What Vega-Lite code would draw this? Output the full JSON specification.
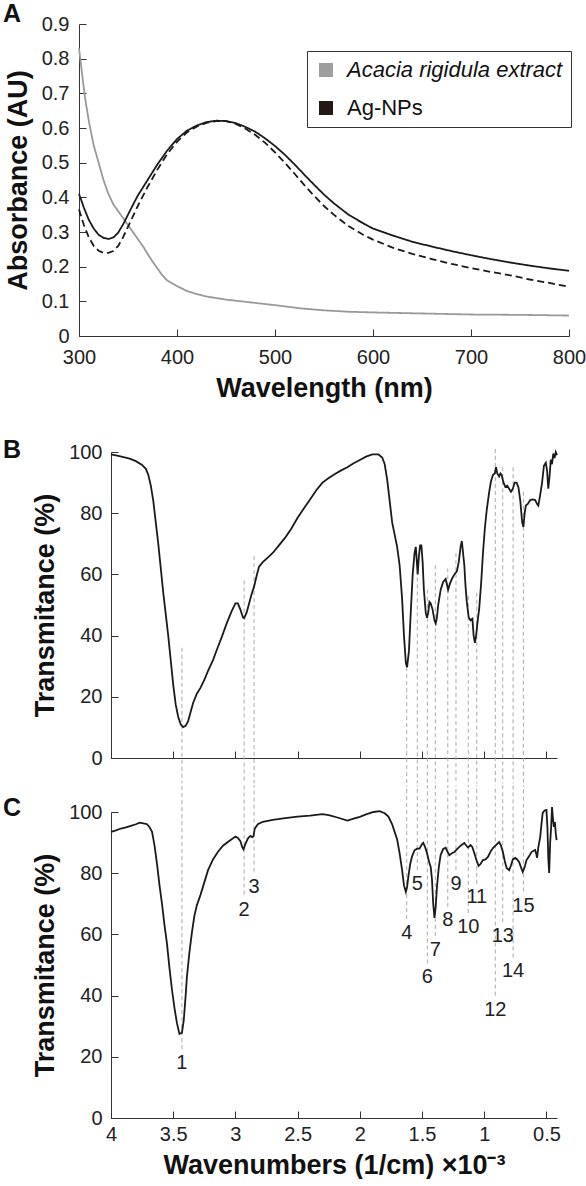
{
  "$schema": "https://vega.github.io/schema/vega-lite/v6.json",
  "background": "white",
  "padding": {"left": 3, "top": 2, "right": 0, "bottom": 0},
  "config": {
    "font": "Liberation Sans",
    "view": {"stroke": null},
    "axis": {
      "domainColor": "#333333", "tickColor": "#333333", "labelColor": "#222222", "titleColor": "#111111",
      "labelFontSize": 20, "titleFontSize": 27, "titleFontWeight": "bold", "grid": false,
      "tickSize": -7, "domainWidth": 1, "tickWidth": 1, "labelFlush": false, "labelOverlap": false
    },
    "title": {"fontSize": 25, "fontWeight": "bold", "anchor": "start", "frame": "group", "color": "#111111", "offset": 0, "baseline": "alphabetic"}
  },
  "datasets": {
    "uv": [
      {"wl":300,"abs":0.83,"sample":"Acacia rigidula extract","run":"extract"},
      {"wl":303,"abs":0.76,"sample":"Acacia rigidula extract","run":"extract"},
      {"wl":306,"abs":0.69,"sample":"Acacia rigidula extract","run":"extract"},
      {"wl":310,"abs":0.62,"sample":"Acacia rigidula extract","run":"extract"},
      {"wl":315,"abs":0.55,"sample":"Acacia rigidula extract","run":"extract"},
      {"wl":320,"abs":0.5,"sample":"Acacia rigidula extract","run":"extract"},
      {"wl":325,"abs":0.45,"sample":"Acacia rigidula extract","run":"extract"},
      {"wl":330,"abs":0.41,"sample":"Acacia rigidula extract","run":"extract"},
      {"wl":335,"abs":0.38,"sample":"Acacia rigidula extract","run":"extract"},
      {"wl":340,"abs":0.36,"sample":"Acacia rigidula extract","run":"extract"},
      {"wl":345,"abs":0.34,"sample":"Acacia rigidula extract","run":"extract"},
      {"wl":350,"abs":0.32,"sample":"Acacia rigidula extract","run":"extract"},
      {"wl":355,"abs":0.3,"sample":"Acacia rigidula extract","run":"extract"},
      {"wl":360,"abs":0.28,"sample":"Acacia rigidula extract","run":"extract"},
      {"wl":365,"abs":0.26,"sample":"Acacia rigidula extract","run":"extract"},
      {"wl":370,"abs":0.237,"sample":"Acacia rigidula extract","run":"extract"},
      {"wl":375,"abs":0.215,"sample":"Acacia rigidula extract","run":"extract"},
      {"wl":380,"abs":0.195,"sample":"Acacia rigidula extract","run":"extract"},
      {"wl":385,"abs":0.175,"sample":"Acacia rigidula extract","run":"extract"},
      {"wl":390,"abs":0.16,"sample":"Acacia rigidula extract","run":"extract"},
      {"wl":400,"abs":0.144,"sample":"Acacia rigidula extract","run":"extract"},
      {"wl":410,"abs":0.13,"sample":"Acacia rigidula extract","run":"extract"},
      {"wl":420,"abs":0.121,"sample":"Acacia rigidula extract","run":"extract"},
      {"wl":430,"abs":0.114,"sample":"Acacia rigidula extract","run":"extract"},
      {"wl":450,"abs":0.105,"sample":"Acacia rigidula extract","run":"extract"},
      {"wl":475,"abs":0.097,"sample":"Acacia rigidula extract","run":"extract"},
      {"wl":500,"abs":0.089,"sample":"Acacia rigidula extract","run":"extract"},
      {"wl":525,"abs":0.08,"sample":"Acacia rigidula extract","run":"extract"},
      {"wl":550,"abs":0.074,"sample":"Acacia rigidula extract","run":"extract"},
      {"wl":575,"abs":0.07,"sample":"Acacia rigidula extract","run":"extract"},
      {"wl":600,"abs":0.068,"sample":"Acacia rigidula extract","run":"extract"},
      {"wl":650,"abs":0.065,"sample":"Acacia rigidula extract","run":"extract"},
      {"wl":700,"abs":0.062,"sample":"Acacia rigidula extract","run":"extract"},
      {"wl":750,"abs":0.061,"sample":"Acacia rigidula extract","run":"extract"},
      {"wl":800,"abs":0.059,"sample":"Acacia rigidula extract","run":"extract"},
      {"wl":300,"abs":0.41,"sample":"Ag-NPs","run":"solid"},
      {"wl":305,"abs":0.37,"sample":"Ag-NPs","run":"solid"},
      {"wl":310,"abs":0.335,"sample":"Ag-NPs","run":"solid"},
      {"wl":315,"abs":0.31,"sample":"Ag-NPs","run":"solid"},
      {"wl":320,"abs":0.292,"sample":"Ag-NPs","run":"solid"},
      {"wl":325,"abs":0.283,"sample":"Ag-NPs","run":"solid"},
      {"wl":330,"abs":0.28,"sample":"Ag-NPs","run":"solid"},
      {"wl":335,"abs":0.284,"sample":"Ag-NPs","run":"solid"},
      {"wl":340,"abs":0.298,"sample":"Ag-NPs","run":"solid"},
      {"wl":345,"abs":0.322,"sample":"Ag-NPs","run":"solid"},
      {"wl":350,"abs":0.35,"sample":"Ag-NPs","run":"solid"},
      {"wl":355,"abs":0.378,"sample":"Ag-NPs","run":"solid"},
      {"wl":360,"abs":0.405,"sample":"Ag-NPs","run":"solid"},
      {"wl":370,"abs":0.45,"sample":"Ag-NPs","run":"solid"},
      {"wl":380,"abs":0.495,"sample":"Ag-NPs","run":"solid"},
      {"wl":390,"abs":0.535,"sample":"Ag-NPs","run":"solid"},
      {"wl":400,"abs":0.568,"sample":"Ag-NPs","run":"solid"},
      {"wl":410,"abs":0.592,"sample":"Ag-NPs","run":"solid"},
      {"wl":420,"abs":0.607,"sample":"Ag-NPs","run":"solid"},
      {"wl":430,"abs":0.617,"sample":"Ag-NPs","run":"solid"},
      {"wl":440,"abs":0.621,"sample":"Ag-NPs","run":"solid"},
      {"wl":450,"abs":0.62,"sample":"Ag-NPs","run":"solid"},
      {"wl":460,"abs":0.614,"sample":"Ag-NPs","run":"solid"},
      {"wl":470,"abs":0.603,"sample":"Ag-NPs","run":"solid"},
      {"wl":480,"abs":0.589,"sample":"Ag-NPs","run":"solid"},
      {"wl":490,"abs":0.57,"sample":"Ag-NPs","run":"solid"},
      {"wl":500,"abs":0.548,"sample":"Ag-NPs","run":"solid"},
      {"wl":510,"abs":0.523,"sample":"Ag-NPs","run":"solid"},
      {"wl":520,"abs":0.495,"sample":"Ag-NPs","run":"solid"},
      {"wl":530,"abs":0.465,"sample":"Ag-NPs","run":"solid"},
      {"wl":540,"abs":0.436,"sample":"Ag-NPs","run":"solid"},
      {"wl":550,"abs":0.408,"sample":"Ag-NPs","run":"solid"},
      {"wl":560,"abs":0.383,"sample":"Ag-NPs","run":"solid"},
      {"wl":575,"abs":0.35,"sample":"Ag-NPs","run":"solid"},
      {"wl":590,"abs":0.325,"sample":"Ag-NPs","run":"solid"},
      {"wl":600,"abs":0.31,"sample":"Ag-NPs","run":"solid"},
      {"wl":620,"abs":0.29,"sample":"Ag-NPs","run":"solid"},
      {"wl":640,"abs":0.272,"sample":"Ag-NPs","run":"solid"},
      {"wl":660,"abs":0.258,"sample":"Ag-NPs","run":"solid"},
      {"wl":680,"abs":0.245,"sample":"Ag-NPs","run":"solid"},
      {"wl":700,"abs":0.233,"sample":"Ag-NPs","run":"solid"},
      {"wl":720,"abs":0.222,"sample":"Ag-NPs","run":"solid"},
      {"wl":740,"abs":0.212,"sample":"Ag-NPs","run":"solid"},
      {"wl":760,"abs":0.203,"sample":"Ag-NPs","run":"solid"},
      {"wl":780,"abs":0.195,"sample":"Ag-NPs","run":"solid"},
      {"wl":800,"abs":0.188,"sample":"Ag-NPs","run":"solid"},
      {"wl":300,"abs":0.365,"sample":"Ag-NPs","run":"dashed"},
      {"wl":305,"abs":0.32,"sample":"Ag-NPs","run":"dashed"},
      {"wl":310,"abs":0.285,"sample":"Ag-NPs","run":"dashed"},
      {"wl":315,"abs":0.26,"sample":"Ag-NPs","run":"dashed"},
      {"wl":320,"abs":0.246,"sample":"Ag-NPs","run":"dashed"},
      {"wl":325,"abs":0.24,"sample":"Ag-NPs","run":"dashed"},
      {"wl":330,"abs":0.24,"sample":"Ag-NPs","run":"dashed"},
      {"wl":335,"abs":0.245,"sample":"Ag-NPs","run":"dashed"},
      {"wl":340,"abs":0.26,"sample":"Ag-NPs","run":"dashed"},
      {"wl":345,"abs":0.285,"sample":"Ag-NPs","run":"dashed"},
      {"wl":350,"abs":0.315,"sample":"Ag-NPs","run":"dashed"},
      {"wl":355,"abs":0.345,"sample":"Ag-NPs","run":"dashed"},
      {"wl":360,"abs":0.375,"sample":"Ag-NPs","run":"dashed"},
      {"wl":370,"abs":0.43,"sample":"Ag-NPs","run":"dashed"},
      {"wl":380,"abs":0.48,"sample":"Ag-NPs","run":"dashed"},
      {"wl":390,"abs":0.525,"sample":"Ag-NPs","run":"dashed"},
      {"wl":400,"abs":0.56,"sample":"Ag-NPs","run":"dashed"},
      {"wl":410,"abs":0.587,"sample":"Ag-NPs","run":"dashed"},
      {"wl":420,"abs":0.604,"sample":"Ag-NPs","run":"dashed"},
      {"wl":430,"abs":0.615,"sample":"Ag-NPs","run":"dashed"},
      {"wl":440,"abs":0.62,"sample":"Ag-NPs","run":"dashed"},
      {"wl":450,"abs":0.62,"sample":"Ag-NPs","run":"dashed"},
      {"wl":460,"abs":0.612,"sample":"Ag-NPs","run":"dashed"},
      {"wl":470,"abs":0.598,"sample":"Ag-NPs","run":"dashed"},
      {"wl":480,"abs":0.58,"sample":"Ag-NPs","run":"dashed"},
      {"wl":490,"abs":0.557,"sample":"Ag-NPs","run":"dashed"},
      {"wl":500,"abs":0.53,"sample":"Ag-NPs","run":"dashed"},
      {"wl":510,"abs":0.5,"sample":"Ag-NPs","run":"dashed"},
      {"wl":520,"abs":0.468,"sample":"Ag-NPs","run":"dashed"},
      {"wl":530,"abs":0.435,"sample":"Ag-NPs","run":"dashed"},
      {"wl":540,"abs":0.404,"sample":"Ag-NPs","run":"dashed"},
      {"wl":550,"abs":0.375,"sample":"Ag-NPs","run":"dashed"},
      {"wl":560,"abs":0.35,"sample":"Ag-NPs","run":"dashed"},
      {"wl":575,"abs":0.317,"sample":"Ag-NPs","run":"dashed"},
      {"wl":590,"abs":0.292,"sample":"Ag-NPs","run":"dashed"},
      {"wl":600,"abs":0.278,"sample":"Ag-NPs","run":"dashed"},
      {"wl":620,"abs":0.255,"sample":"Ag-NPs","run":"dashed"},
      {"wl":640,"abs":0.237,"sample":"Ag-NPs","run":"dashed"},
      {"wl":660,"abs":0.222,"sample":"Ag-NPs","run":"dashed"},
      {"wl":680,"abs":0.208,"sample":"Ag-NPs","run":"dashed"},
      {"wl":700,"abs":0.196,"sample":"Ag-NPs","run":"dashed"},
      {"wl":720,"abs":0.185,"sample":"Ag-NPs","run":"dashed"},
      {"wl":740,"abs":0.175,"sample":"Ag-NPs","run":"dashed"},
      {"wl":760,"abs":0.163,"sample":"Ag-NPs","run":"dashed"},
      {"wl":780,"abs":0.153,"sample":"Ag-NPs","run":"dashed"},
      {"wl":800,"abs":0.142,"sample":"Ag-NPs","run":"dashed"}
    ],
    "ftirB": [
      {"wn":4.0,"t":99.2},{"wn":3.95,"t":98.8},{"wn":3.9,"t":98.3},{"wn":3.85,"t":97.8},{"wn":3.8,"t":97.0},
      {"wn":3.75,"t":95.8},{"wn":3.72,"t":94.5},{"wn":3.7,"t":92.5},{"wn":3.68,"t":89},{"wn":3.66,"t":84},
      {"wn":3.64,"t":77},{"wn":3.62,"t":70},{"wn":3.6,"t":62},{"wn":3.58,"t":54},{"wn":3.56,"t":47},
      {"wn":3.54,"t":40},{"wn":3.52,"t":32},{"wn":3.5,"t":24},{"wn":3.48,"t":17.5},{"wn":3.46,"t":13.5},
      {"wn":3.44,"t":11},{"wn":3.42,"t":10.1},{"wn":3.4,"t":10.5},{"wn":3.38,"t":12},{"wn":3.36,"t":15},
      {"wn":3.34,"t":18},{"wn":3.31,"t":21},{"wn":3.28,"t":23},{"wn":3.25,"t":25.5},{"wn":3.22,"t":28.5},
      {"wn":3.18,"t":32},{"wn":3.15,"t":35.3},{"wn":3.11,"t":39.5},{"wn":3.07,"t":44},{"wn":3.03,"t":48},
      {"wn":3.0,"t":50.5},{"wn":2.98,"t":50.5},{"wn":2.96,"t":48.5},{"wn":2.94,"t":46},{"wn":2.93,"t":45.7},
      {"wn":2.91,"t":47.5},{"wn":2.89,"t":50.5},{"wn":2.87,"t":53.5},{"wn":2.85,"t":56},{"wn":2.83,"t":59.5},
      {"wn":2.81,"t":62.5},{"wn":2.78,"t":64},{"wn":2.74,"t":65.5},{"wn":2.7,"t":67},{"wn":2.65,"t":69.5},
      {"wn":2.6,"t":72},{"wn":2.55,"t":75},{"wn":2.5,"t":78.5},{"wn":2.45,"t":81.5},{"wn":2.4,"t":84.5},
      {"wn":2.35,"t":87.5},{"wn":2.3,"t":90},{"wn":2.25,"t":91.5},{"wn":2.2,"t":92.8},{"wn":2.15,"t":94},
      {"wn":2.1,"t":95},{"wn":2.05,"t":96.3},{"wn":2.0,"t":97.4},{"wn":1.95,"t":98.5},{"wn":1.9,"t":99.2},
      {"wn":1.85,"t":99.2},{"wn":1.82,"t":98.2},{"wn":1.8,"t":96},{"wn":1.78,"t":91},{"wn":1.76,"t":84},
      {"wn":1.74,"t":77},{"wn":1.72,"t":73},{"wn":1.7,"t":69},{"wn":1.68,"t":63},{"wn":1.66,"t":52},
      {"wn":1.645,"t":40},{"wn":1.63,"t":31},{"wn":1.62,"t":29.7},{"wn":1.605,"t":35},{"wn":1.59,"t":48},
      {"wn":1.575,"t":60},{"wn":1.56,"t":67},{"wn":1.55,"t":69},{"wn":1.543,"t":65},{"wn":1.535,"t":60},
      {"wn":1.525,"t":66},{"wn":1.515,"t":69.5},{"wn":1.505,"t":69.5},{"wn":1.495,"t":64},{"wn":1.485,"t":55},
      {"wn":1.47,"t":47.5},{"wn":1.46,"t":45.8},{"wn":1.45,"t":47.5},{"wn":1.44,"t":51},{"wn":1.43,"t":50.5},
      {"wn":1.415,"t":48.5},{"wn":1.4,"t":45},{"wn":1.39,"t":44},{"wn":1.38,"t":46},{"wn":1.37,"t":50},
      {"wn":1.35,"t":55},{"wn":1.33,"t":57.5},{"wn":1.31,"t":58.5},{"wn":1.29,"t":55},{"wn":1.275,"t":57},
      {"wn":1.26,"t":58.5},{"wn":1.24,"t":60},{"wn":1.22,"t":61},{"wn":1.205,"t":64},{"wn":1.19,"t":69},
      {"wn":1.18,"t":70.9},{"wn":1.17,"t":67},{"wn":1.16,"t":63},{"wn":1.15,"t":56},{"wn":1.14,"t":51},
      {"wn":1.125,"t":46},{"wn":1.11,"t":45},{"wn":1.095,"t":45.5},{"wn":1.085,"t":40},{"wn":1.075,"t":37.6},
      {"wn":1.065,"t":40},{"wn":1.055,"t":44},{"wn":1.04,"t":49},{"wn":1.025,"t":57},{"wn":1.01,"t":67},
      {"wn":0.995,"t":75},{"wn":0.98,"t":81},{"wn":0.96,"t":87},{"wn":0.945,"t":90.5},{"wn":0.93,"t":92.5},
      {"wn":0.915,"t":93},{"wn":0.905,"t":95},{"wn":0.895,"t":93},{"wn":0.88,"t":92},{"wn":0.87,"t":93},
      {"wn":0.86,"t":92.5},{"wn":0.845,"t":90},{"wn":0.83,"t":88.6},{"wn":0.815,"t":89},{"wn":0.8,"t":88},
      {"wn":0.785,"t":87},{"wn":0.77,"t":88},{"wn":0.755,"t":90},{"wn":0.74,"t":90},{"wn":0.725,"t":88.5},
      {"wn":0.71,"t":84},{"wn":0.695,"t":77},{"wn":0.685,"t":75.5},{"wn":0.675,"t":80},{"wn":0.665,"t":82.5},
      {"wn":0.65,"t":83},{"wn":0.63,"t":84.3},{"wn":0.61,"t":84.5},{"wn":0.59,"t":84.3},{"wn":0.575,"t":83},
      {"wn":0.565,"t":82.5},{"wn":0.55,"t":86},{"wn":0.535,"t":90},{"wn":0.52,"t":95.5},{"wn":0.505,"t":96.5},
      {"wn":0.495,"t":94},{"wn":0.485,"t":88},{"wn":0.475,"t":92},{"wn":0.465,"t":97.5},{"wn":0.455,"t":96},
      {"wn":0.445,"t":99.5},{"wn":0.435,"t":98},{"wn":0.425,"t":100},{"wn":0.415,"t":99}
    ],
    "ftirC": [
      {"wn":4.0,"t":93.5},{"wn":3.96,"t":94},{"wn":3.92,"t":94.6},{"wn":3.88,"t":95},{"wn":3.84,"t":95.5},
      {"wn":3.8,"t":96},{"wn":3.77,"t":96.5},{"wn":3.74,"t":96.3},{"wn":3.71,"t":96},{"wn":3.69,"t":95},
      {"wn":3.67,"t":93.5},{"wn":3.65,"t":89},{"wn":3.63,"t":83},{"wn":3.61,"t":76},{"wn":3.59,"t":70},
      {"wn":3.57,"t":63},{"wn":3.55,"t":57},{"wn":3.53,"t":49},{"wn":3.51,"t":42},{"wn":3.49,"t":36},
      {"wn":3.47,"t":31},{"wn":3.45,"t":27.5},{"wn":3.43,"t":27.8},{"wn":3.415,"t":32},{"wn":3.4,"t":40},
      {"wn":3.39,"t":46},{"wn":3.37,"t":54},{"wn":3.35,"t":60.5},{"wn":3.33,"t":66},{"wn":3.31,"t":69.5},
      {"wn":3.28,"t":73},{"wn":3.25,"t":77},{"wn":3.22,"t":81},{"wn":3.18,"t":84.5},{"wn":3.14,"t":87},
      {"wn":3.1,"t":89},{"wn":3.05,"t":90.5},{"wn":3.0,"t":92},{"wn":2.98,"t":91.5},{"wn":2.96,"t":90.5},
      {"wn":2.945,"t":88.5},{"wn":2.935,"t":87.8},{"wn":2.92,"t":89.5},{"wn":2.9,"t":91.3},{"wn":2.88,"t":92.2},
      {"wn":2.865,"t":91.8},{"wn":2.855,"t":92},{"wn":2.845,"t":94.5},{"wn":2.82,"t":96},{"wn":2.78,"t":96.8},
      {"wn":2.7,"t":97.4},{"wn":2.6,"t":98},{"wn":2.5,"t":98.5},{"wn":2.4,"t":98.8},{"wn":2.3,"t":99.3},
      {"wn":2.25,"t":99},{"wn":2.18,"t":98.2},{"wn":2.1,"t":97.2},{"wn":2.05,"t":97.8},{"wn":2.0,"t":98.4},
      {"wn":1.95,"t":99.2},{"wn":1.89,"t":100},{"wn":1.84,"t":100.3},{"wn":1.8,"t":99.6},{"wn":1.77,"t":98.5},
      {"wn":1.74,"t":96},{"wn":1.72,"t":93.5},{"wn":1.7,"t":91},{"wn":1.68,"t":86.5},{"wn":1.66,"t":81},
      {"wn":1.645,"t":76},{"wn":1.63,"t":73.9},{"wn":1.62,"t":75.5},{"wn":1.61,"t":78.8},{"wn":1.595,"t":83},
      {"wn":1.58,"t":85.5},{"wn":1.56,"t":87.5},{"wn":1.54,"t":88},{"wn":1.52,"t":88},{"wn":1.5,"t":89.5},
      {"wn":1.49,"t":89.9},{"wn":1.475,"t":88.5},{"wn":1.46,"t":86.6},{"wn":1.445,"t":84},{"wn":1.43,"t":82},
      {"wn":1.42,"t":78},{"wn":1.41,"t":70},{"wn":1.4,"t":65.4},{"wn":1.39,"t":69},{"wn":1.38,"t":75.5},
      {"wn":1.365,"t":82},{"wn":1.35,"t":86},{"wn":1.33,"t":87.9},{"wn":1.31,"t":88.3},{"wn":1.295,"t":87},
      {"wn":1.28,"t":85.9},{"wn":1.26,"t":86.5},{"wn":1.24,"t":86.9},{"wn":1.22,"t":87.8},{"wn":1.2,"t":88.6},
      {"wn":1.18,"t":89.3},{"wn":1.16,"t":89.9},{"wn":1.14,"t":88.8},{"wn":1.13,"t":88.4},{"wn":1.11,"t":89.2},
      {"wn":1.095,"t":88.5},{"wn":1.08,"t":86.6},{"wn":1.06,"t":84},{"wn":1.045,"t":82.4},{"wn":1.03,"t":83},
      {"wn":1.01,"t":84.3},{"wn":0.99,"t":84.5},{"wn":0.97,"t":85.3},{"wn":0.95,"t":87},{"wn":0.93,"t":88.2},
      {"wn":0.91,"t":89},{"wn":0.88,"t":90.2},{"wn":0.865,"t":89},{"wn":0.85,"t":86.9},{"wn":0.835,"t":84},
      {"wn":0.82,"t":81.7},{"wn":0.8,"t":81},{"wn":0.785,"t":82.5},{"wn":0.77,"t":84.5},{"wn":0.75,"t":85},
      {"wn":0.735,"t":84.5},{"wn":0.72,"t":83.7},{"wn":0.705,"t":82},{"wn":0.69,"t":80.4},{"wn":0.675,"t":82},
      {"wn":0.66,"t":84.3},{"wn":0.64,"t":85.5},{"wn":0.62,"t":86.9},{"wn":0.6,"t":87.4},{"wn":0.59,"t":87.6},
      {"wn":0.58,"t":86},{"wn":0.575,"t":85},{"wn":0.565,"t":88.5},{"wn":0.55,"t":91.8},{"wn":0.54,"t":96},
      {"wn":0.53,"t":99.7},{"wn":0.515,"t":100.5},{"wn":0.5,"t":100.7},{"wn":0.492,"t":95},{"wn":0.485,"t":85},
      {"wn":0.478,"t":80.1},{"wn":0.47,"t":90},{"wn":0.462,"t":95.1},{"wn":0.455,"t":101.6},{"wn":0.448,"t":98},
      {"wn":0.44,"t":95.1},{"wn":0.432,"t":96.7},{"wn":0.425,"t":93},{"wn":0.418,"t":90.8}
    ],
    "peaks": [
      {"id":"1","wn":3.43,"btop":36,"cbot":22.5,"lab":18},
      {"id":"2","wn":2.93,"btop":58,"cbot":73,"lab":68},
      {"id":"3","wn":2.85,"btop":66,"cbot":80.5,"lab":75.5},
      {"id":"4","wn":1.623,"btop":29.7,"cbot":65,"lab":60.5},
      {"id":"5","wn":1.538,"btop":59,"cbot":81,"lab":76.5},
      {"id":"6","wn":1.457,"btop":55,"cbot":50.5,"lab":46},
      {"id":"7","wn":1.393,"btop":63,"cbot":59.5,"lab":55},
      {"id":"8","wn":1.293,"btop":62,"cbot":69,"lab":64.7},
      {"id":"9","wn":1.227,"btop":67,"cbot":81,"lab":76.5},
      {"id":"10","wn":1.128,"btop":53,"cbot":67,"lab":62.4},
      {"id":"11","wn":1.06,"btop":54,"cbot":76.5,"lab":72.2},
      {"id":"12","wn":0.911,"btop":101,"cbot":40,"lab":35.3},
      {"id":"13","wn":0.851,"btop":95,"cbot":64,"lab":59.5},
      {"id":"14","wn":0.768,"btop":95,"cbot":52.5,"lab":48},
      {"id":"15","wn":0.685,"btop":87,"cbot":74,"lab":69.3}
    ]
  },
  "spacing": 37,
  "vconcat": [
    {
      "width": 458,
      "height": 312,
      "title": {"text": "A", "dx": -108, "dy": 17},
      "data": {"name": "uv"},
      "mark": {"type": "line", "strokeWidth": 1.8},
      "encoding": {
        "x": {
          "field": "wl", "type": "quantitative",
          "scale": {"domain": [300, 800], "range": [-32, 458], "nice": false, "zero": false},
          "axis": {"values": [300, 400, 500, 600, 700, 800], "title": "Wavelength (nm)", "labelPadding": 18, "titlePadding": 8}
        },
        "y": {
          "field": "abs", "type": "quantitative",
          "scale": {"domain": [0, 0.9], "nice": false},
          "axis": {"values": [0, 0.1, 0.2, 0.3, 0.4, 0.5, 0.6, 0.7, 0.8, 0.9], "format": "~g", "title": "Absorbance (AU)", "offset": 32, "labelPadding": 17, "titlePadding": 9}
        },
        "color": {
          "field": "sample", "type": "nominal",
          "scale": {"domain": ["Acacia rigidula extract", "Ag-NPs"], "range": ["#999999", "#1a1a1a"]},
          "legend": {
            "title": null, "orient": "none", "legendX": 196, "legendY": 27,
            "symbolType": "square", "symbolSize": 196, "labelFontSize": 22, "labelColor": "#111111",
            "padding": 8, "rowPadding": 16, "labelOffset": 10, "labelLimit": 400,
            "strokeColor": "#333333", "fillColor": "white",
            "encode": {
              "symbols": {"update": {"fill": {"signal": "datum.value === 'Ag-NPs' ? '#231815' : '#9e9e9e'"}, "strokeWidth": {"value": 0}, "opacity": {"value": 1}}},
              "labels": {"update": {"fontStyle": {"signal": "datum.value === 'Ag-NPs' ? 'normal' : 'italic'"}}}
            }
          }
        },
        "strokeDash": {
          "field": "run", "type": "nominal",
          "scale": {"domain": ["extract", "solid", "dashed"], "range": [[1, 0], [1, 0], [7, 4]]},
          "legend": null
        }
      }
    },
    {
      "spacing": 0,
      "vconcat": [
        {
          "width": 446,
          "height": 306,
          "title": {"text": "B", "dx": -108, "dy": 25},
          "layer": [
            {
              "data": {"name": "peaks"},
              "mark": {"type": "rule", "strokeDash": [4, 3], "color": "#aaaaaa", "strokeWidth": 1},
              "encoding": {
                "x": {"field": "wn", "type": "quantitative", "title": null},
                "y": {"field": "btop", "type": "quantitative", "title": "Transmitance (%)"},
                "y2": {"datum": -8.3, "type": "quantitative"}
              }
            },
            {
              "data": {"name": "ftirB"},
              "mark": {"type": "line", "color": "#1a1a1a", "strokeWidth": 1.8},
              "encoding": {
                "x": {
                  "field": "wn", "type": "quantitative", "title": null,
                  "scale": {"domain": [0.415, 4], "reverse": true, "nice": false, "zero": false},
                  "axis": {"values": [4, 3.5, 3, 2.5, 2, 1.5, 1, 0.5], "labels": false}
                },
                "y": {
                  "field": "t", "type": "quantitative", "title": "Transmitance (%)",
                  "scale": {"domain": [0, 100], "nice": false},
                  "axis": {"values": [0, 20, 40, 60, 80, 100], "labelPadding": 16, "titlePadding": 9}
                }
              }
            }
          ]
        },
        {
          "width": 446,
          "height": 306,
          "title": {"text": "C", "dx": -108, "dy": 40},
          "layer": [
            {
              "data": {"name": "peaks"},
              "mark": {"type": "rule", "strokeDash": [4, 3], "color": "#aaaaaa", "strokeWidth": 1},
              "encoding": {
                "x": {"field": "wn", "type": "quantitative", "title": "Wavenumbers (1/cm) ×10⁻³"},
                "y": {"field": "cbot", "type": "quantitative", "title": "Transmitance (%)"},
                "y2": {"datum": 108.8, "type": "quantitative"}
              }
            },
            {
              "data": {"name": "ftirC"},
              "mark": {"type": "line", "color": "#1a1a1a", "strokeWidth": 1.8},
              "encoding": {
                "x": {
                  "field": "wn", "type": "quantitative", "title": "Wavenumbers (1/cm) ×10⁻³",
                  "scale": {"domain": [0.415, 4], "reverse": true, "nice": false, "zero": false},
                  "axis": {"values": [4, 3.5, 3, 2.5, 2, 1.5, 1, 0.5], "format": "~g", "labelPadding": 13.5, "titlePadding": 8}
                },
                "y": {
                  "field": "t", "type": "quantitative", "title": "Transmitance (%)",
                  "scale": {"domain": [0, 100], "nice": false},
                  "axis": {"values": [0, 20, 40, 60, 80, 100], "labelPadding": 16, "titlePadding": 9}
                }
              }
            },
            {
              "data": {"name": "peaks"},
              "mark": {"type": "text", "fontSize": 20, "color": "#222222", "baseline": "middle", "align": "center"},
              "encoding": {
                "x": {"field": "wn", "type": "quantitative", "title": "Wavenumbers (1/cm) ×10⁻³"},
                "y": {"field": "lab", "type": "quantitative", "title": "Transmitance (%)"},
                "text": {"field": "id"}
              }
            }
          ]
        }
      ]
    }
  ]
}
